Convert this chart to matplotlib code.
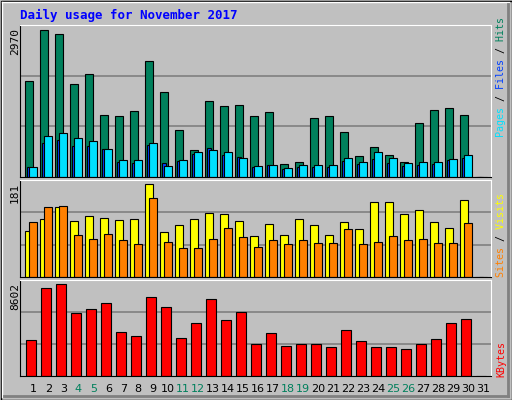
import numpy as np
import matplotlib.pyplot as plt
from matplotlib.patches import Rectangle

days = np.arange(1, 32)
hits = [1942, 2970, 2889, 1881, 2083, 1256, 1236, 1337, 2345, 1720, 954, 551, 1539, 1438, 1458,
        1236, 1317, 269, 309, 1196, 1236, 914, 430, 611, 450, 309, 1095, 1357, 1398, 1256, 0]
files = [202, 692, 739, 618, 618, 571, 309, 289, 652, 289, 329, 470, 591, 450, 410,
         208, 249, 168, 208, 208, 208, 329, 269, 370, 289, 228, 249, 269, 349, 390, 0]
pages = [208, 833, 894, 793, 732, 571, 349, 349, 692, 228, 349, 511, 551, 511, 390,
         228, 249, 188, 249, 249, 249, 390, 309, 511, 390, 289, 309, 309, 370, 450, 0]
visits = [89, 114, 136, 110, 120, 116, 112, 114, 181, 87, 101, 114, 124, 122, 110,
          79, 103, 81, 114, 101, 81, 108, 93, 146, 146, 122, 130, 108, 95, 150, 0]
sites = [108, 136, 138, 81, 73, 83, 71, 65, 154, 69, 56, 57, 73, 95, 77,
         59, 71, 65, 71, 67, 67, 93, 65, 69, 79, 71, 73, 67, 67, 105, 0]
kbytes = [3328, 8225, 8602, 5870, 6247, 6812, 4081, 3704, 7377, 6435, 3516, 4929, 7189, 5211, 5964,
          2951, 3987, 2762, 2951, 2951, 2668, 4269, 3233, 2668, 2668, 2480, 2951, 3422, 4929, 5305, 0]
weekend = [4, 5, 11, 12, 18, 19, 25, 26]

W, H = 512, 400
fig = plt.figure(figsize=(W / 100, H / 100), dpi=100)
fig.patch.set_facecolor('#C0C0C0')
mono = 'DejaVu Sans Mono'

# outer border / bevel
bg = fig.add_axes([0, 0, 1, 1])
bg.set_xlim(0, W); bg.set_ylim(H, 0); bg.axis('off')
bg.add_patch(Rectangle((0.5, 0.5), W - 1, H - 1, fill=False, ec='black', lw=1))
bg.plot([2, W - 3], [2, 2], color='white', lw=1)
bg.plot([2, 2], [2, H - 3], color='white', lw=1)
bg.plot([W - 4, W - 4], [4, H - 4], color='#808080', lw=2)
bg.plot([4, W - 4], [H - 4, H - 4], color='#808080', lw=2)
bg.text(20, 15, 'Daily usage for November 2017', color='#0000FF', fontsize=9,
        fontweight='bold', family=mono, va='center', ha='left')

x0, x1 = 20.3, 490.7
xlo = 1 - 5.0 / 15
xhi = 1 + (x1 - 25.3) / 15


def panel(top, bot, ymax):
    ax = fig.add_axes([x0 / W, 1 - bot / H, (x1 - x0) / W, (bot - top) / H])
    ax.set_facecolor('#C0C0C0')
    ax.set_xlim(xlo, xhi)
    ax.set_ylim(0, ymax)
    ax.set_xticks([]); ax.set_yticks([])
    for s in ax.spines.values():
        s.set_color('black')
    ax.spines['top'].set_color('white')
    ax.spines['right'].set_color('white')
    for f in (1 / 3, 2 / 3):
        ax.axhline(ymax * f, color='#808080', lw=1.2, zorder=0)
    return ax


ax1 = panel(25, 177, 2970 * 152 / 147.3)
ax1.bar(days, hits, width=0.5, align='edge', color='#00805C', ec='black', lw=0.8)
ax1.bar(days + 0.1, files, width=0.3, align='edge', color='#0040FF', ec='black', lw=0.8)
ax1.bar(days + 0.27, pages, width=0.49, align='edge', color='#00E0FF', ec='black', lw=0.8)

ax2 = panel(180.3, 276.7, 181 * 96.4 / 92.3)
ax2.bar(days, visits, width=0.49, align='edge', color='#FFFF00', ec='black', lw=0.8)
ax2.bar(days + 0.27, sites, width=0.49, align='edge', color='#FF8000', ec='black', lw=0.8)

ax3 = panel(280.3, 375.7, 8602 * 95.4 / 91.3)
ax3.bar(days + 0.07, kbytes, width=0.66, align='edge', color='#FF0000', ec='black', lw=0.8)

for d in days:
    ax3.text(d + 0.53, -0.14, str(d), transform=ax3.get_xaxis_transform(), ha='center',
             va='center', fontsize=8, family='DejaVu Sans',
             color='#00805C' if d in weekend else 'black')

# y maxima
for lbl, y in (('2970', 28), ('181', 183), ('8602', 283)):
    bg.text(15, y, lbl, rotation=90, ha='center', va='top', fontsize=8, family=mono)


# right side legends (bottom to top); monospace, each colour drawn over padded copies
def vlegend(parts, ybottom):
    full = ''.join(t for t, _ in parts)
    pos = 0
    for txt, col in parts:
        s = ' ' * pos + txt + ' ' * (len(full) - pos - len(txt))
        bg.text(501, ybottom, s, rotation=90, ha='center', va='bottom', fontsize=7.2,
                family=mono, color=col)
        pos += len(txt)


vlegend([('Pages', '#00E0FF'), (' / ', 'black'), ('Files', '#0040FF'), (' / ', 'black'),
         ('Hits', '#00805C')], 137)
vlegend([('Sites', '#FF8000'), (' / ', 'black'), ('Visits', '#FFFF00')], 277)
vlegend([('KBytes', '#FF0000')], 377)

fig.savefig('out.png', dpi=100, facecolor=fig.get_facecolor())
